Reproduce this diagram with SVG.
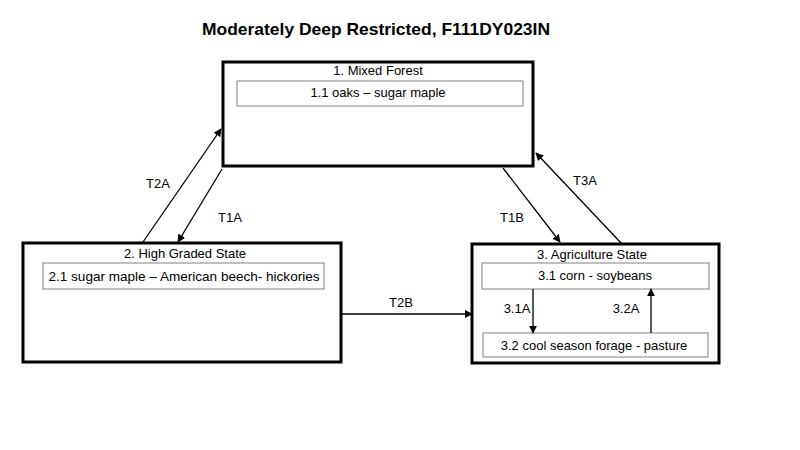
<svg xmlns="http://www.w3.org/2000/svg" width="800" height="450" viewBox="0 0 800 450">
<style>
text{font-family:"Liberation Sans",Arial,sans-serif;fill:#000;}
.t{font-size:13px;text-anchor:middle;}
.state{fill:#fff;stroke:#000;stroke-width:3;}
.phase{fill:#fff;stroke:#808080;stroke-width:1;}
.c{stroke:#000;stroke-width:1.3;fill:none;marker-end:url(#ah);}
</style>
<defs>
<marker id="ah" viewBox="0 0 10 10" refX="9" refY="5" markerWidth="8" markerHeight="8" markerUnits="userSpaceOnUse" orient="auto">
<path d="M0,0 L10,5 L0,10 z" fill="#000"/>
</marker>
</defs>
<rect width="800" height="450" fill="#fff"/>
<text x="376" y="35" font-size="17" font-weight="bold" text-anchor="middle" textLength="348" lengthAdjust="spacingAndGlyphs">Moderately Deep Restricted, F111DY023IN</text>

<g id="state1">
<rect class="state" x="223" y="62" width="310" height="104"/>
<text class="t" x="378" y="75">1. Mixed Forest</text>
<rect class="phase" x="237" y="81" width="286" height="25"/>
<text class="t" x="378" y="97">1.1 oaks – sugar maple</text>
</g>

<g id="state2">
<rect class="state" x="23" y="243" width="318" height="119"/>
<text class="t" x="185" y="258">2. High Graded State</text>
<rect class="phase" x="43" y="263" width="281" height="26"/>
<text class="t" x="184" y="281" textLength="271" lengthAdjust="spacingAndGlyphs">2.1 sugar maple – American beech- hickories</text>
</g>

<g id="state3">
<rect class="state" x="472" y="244" width="247" height="119"/>
<text class="t" x="592" y="259">3. Agriculture State</text>
<rect class="phase" x="482" y="263" width="227" height="26"/>
<text class="t" x="595" y="280">3.1 corn - soybeans</text>
<rect class="phase" x="483" y="333" width="225" height="24"/>
<text class="t" x="594" y="350">3.2 cool season forage - pasture</text>
</g>

<g id="connectors">
<line class="c" x1="143" y1="242" x2="221" y2="129"/>
<line class="c" x1="222" y1="169" x2="178" y2="242"/>
<line class="c" x1="503" y1="168" x2="560" y2="242"/>
<line class="c" x1="622" y1="244" x2="536" y2="153"/>
<line class="c" x1="341" y1="314" x2="472" y2="314"/>
<line class="c" x1="533" y1="289" x2="533" y2="333"/>
<line class="c" x1="651" y1="333" x2="651" y2="289"/>
<text class="t" x="158" y="188">T2A</text>
<text class="t" x="230" y="222">T1A</text>
<text class="t" x="512" y="222">T1B</text>
<text class="t" x="585" y="185">T3A</text>
<text class="t" x="401" y="307">T2B</text>
<text class="t" x="517" y="313">3.1A</text>
<text class="t" x="626" y="313">3.2A</text>
</g>
</svg>
